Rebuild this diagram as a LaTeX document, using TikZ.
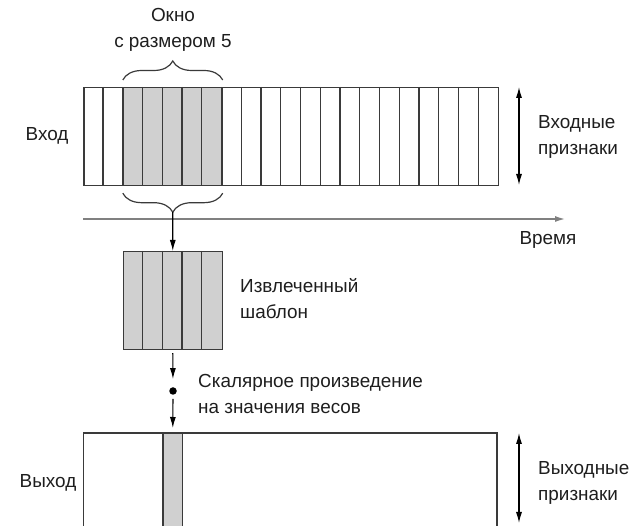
\documentclass[tikz,border=0pt]{standalone}
\usepackage{fontspec}
\setmainfont{Liberation Sans}
\usetikzlibrary{arrows.meta,decorations.pathreplacing,calc}
\definecolor{cellgray}{HTML}{D0D0D0}
\definecolor{edge}{HTML}{3A3A3A}
\definecolor{axisgray}{HTML}{808080}
\definecolor{ink}{HTML}{1E1E1E}
\begin{document}
\begin{tikzpicture}[x=1pt,y=-1pt,
  txt/.style={font=\fontsize{18.9}{26}\selectfont, text=ink, inner sep=0pt},
  lbl/.style={txt, align=left, anchor=west},
  box/.style={draw=edge, line width=1.2pt, inner sep=0pt, anchor=north west},
  grid/.style={draw=edge, line width=1.2pt},
  arr/.style={draw=black, line width=1.1pt, -{Latex[length=11pt,width=6pt]}},
  dblarr/.style={draw=black, line width=1.1pt, {Latex[length=11pt,width=6pt]}-{Latex[length=11pt,width=6pt]}},
  brace/.style={draw=edge, line width=1.2pt, decorate, decoration={brace, amplitude=19pt}},
]
\useasboundingbox (0,0) rectangle (630,526);
\clip (0,0) rectangle (630,526);

% input sequence: 21 time steps, window of 5 highlighted
\def\cw{19.75}
\node[box, fill=cellgray, minimum width=5*\cw pt, minimum height=98pt] (win) at (83.3+2*\cw,87) {};
\node[box, minimum width=21*\cw pt, minimum height=98pt] (inp) at (83.3,87) {};
\foreach \i in {1,...,20} \draw[grid] (83.3+\i*\cw,87) -- (83.3+\i*\cw,185);

% braces around the window
\draw[brace] (win.north west) ++(0,-7) coordinate (tb0) -- ($(win.north east)+(0,-7)$) coordinate (tb1);
\draw[brace] ($(win.south east)+(0,7)$) coordinate (bb0) -- ($(win.south west)+(0,7)$) coordinate (bb1);
\coordinate (bottip) at ($(bb0)!0.5!(bb1)+(0,19)$);

\node[txt, align=center] (wlabel) at (173,30) {Окно\\с размером 5};
\node[txt] (inlabel) at (47,136) {Вход};

% feature axis of the input
\coordinate (ia1) at (519,87);
\coordinate (ia2) at (519,185);
\draw[dblarr] (ia1) -- (ia2);
\node[lbl] (infeat) at (538,137) {Входные\\признаки};

% time axis
\coordinate (t0) at (83,219);
\coordinate (t1) at (566,219);
\draw[draw=axisgray, line width=2pt, -{Latex[length=11pt,width=6pt]}] (t0) -- (t1);
\node[txt] (time) at (548,240) {Время};

% extracted patch
\node[box, fill=cellgray, minimum width=5*\cw pt, minimum height=98pt] (ext) at (83.3+2*\cw,251) {};
\foreach \i in {1,...,4} \draw[grid] ($(ext.north west)+(\i*\cw,0)$) -- ($(ext.south west)+(\i*\cw,0)$);
\draw[arr] (bottip) -- (ext.north);
\node[lbl] (extlabel) at (240,299) {Извлеченный\\шаблон};

% dot product with the weights
\node[circle, fill=black, inner sep=0pt, minimum size=7.5pt] (dot) at (173,391) {};
\draw[arr, shorten <=3pt, shorten >=8pt] (ext.south) -- (dot.north);
\node[lbl] (dotlabel) at (198,394) {Скалярное произведение\\на значения весов};

% output sequence
\coordinate (oNW) at (83.3,433);
\coordinate (oNE) at (497,433);
\node[box, fill=cellgray, minimum width=\cw pt, minimum height=110pt] (col) at (83.3+4*\cw,433) {};
\draw[grid] ($(oNW)+(0,110)$) -- (oNW) -- (oNE) -- ($(oNE)+(0,110)$);
\draw[arr, shorten <=4pt, shorten >=5pt] (dot.south) -- (col.north);
\node[txt] (outlabel) at (48,483) {Выход};

% feature axis of the output
\coordinate (oa1) at (519,433);
\coordinate (oa2) at (519,523);
\draw[dblarr] (oa1) -- (oa2);
\node[lbl] (outfeat) at (538,483) {Выходные\\признаки};
\end{tikzpicture}
\end{document}
